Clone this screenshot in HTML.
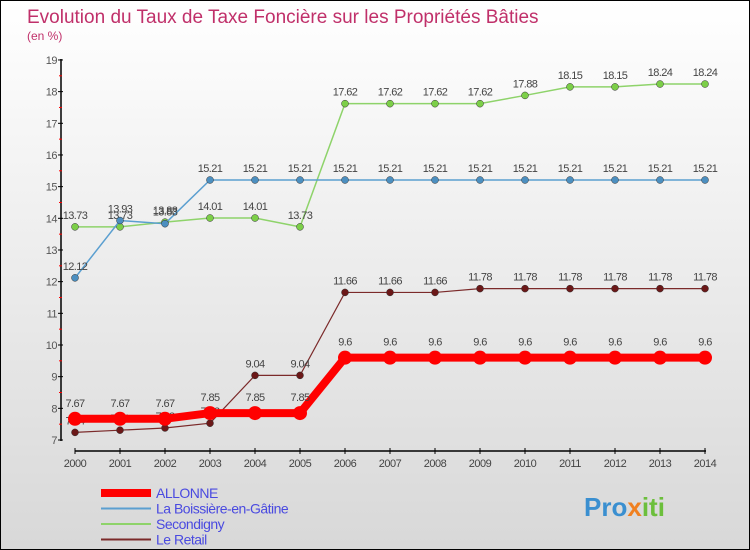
<!DOCTYPE html>
<html><head><meta charset="utf-8"><style>
body{margin:0;}
#c{position:relative;width:748px;height:548px;border:1px solid #000;background:linear-gradient(#fff,#d8d8d8);font-family:"Liberation Sans",sans-serif;overflow:hidden}
</style></head><body>
<div id="c">
<svg id="s" width="748" height="548" xmlns="http://www.w3.org/2000/svg"></svg>
</div>
<script>
const years=[2000,2001,2002,2003,2004,2005,2006,2007,2008,2009,2010,2011,2012,2013,2014];
const allonne=[7.67,7.67,7.67,7.85,7.85,7.85,9.6,9.6,9.6,9.6,9.6,9.6,9.6,9.6,9.6];
const boissiere=[12.12,13.93,13.83,15.21,15.21,15.21,15.21,15.21,15.21,15.21,15.21,15.21,15.21,15.21,15.21];
const secondigny=[13.73,13.73,13.88,14.01,14.01,13.73,17.62,17.62,17.62,17.62,17.88,18.15,18.15,18.24,18.24];
const retail=[7.24,7.31,7.38,7.53,9.04,9.04,11.66,11.66,11.66,11.78,11.78,11.78,11.78,11.78,11.78];
const yTicks=[7,8,9,10,11,12,13,14,15,16,17,18,19];
const ns="http://www.w3.org/2000/svg";const s=document.getElementById('s');
const X=i=>74+i*45, Y=v=>439-(v-7)*31.67;
function el(t,a,p){const e=document.createElementNS(ns,t);for(const k in a)e.setAttribute(k,a[k]);(p||s).appendChild(e);return e;}
let t=el('text',{x:26,y:22,fill:'#c0306a','font-size':19});t.textContent='Evolution du Taux de Taxe Foncière sur les Propriétés Bâties';


t=el('text',{x:26,y:39,fill:'#c0306a','font-size':12});t.textContent='(en %)';


let a=el('line',{x1:60,y1:58,x2:60,y2:440,stroke:'#000','stroke-width':1.5});


a=el('line',{x1:74,y1:450,x2:705,y2:450,stroke:'#000','stroke-width':1.5});


yTicks.forEach(v=>{el('line',{x1:57,x2:62,y1:Y(v),y2:Y(v),stroke:'#000'});
 if(v<19)el('line',{x1:58,x2:61,y1:Y(v+0.5),y2:Y(v+0.5),stroke:'#f00'});
 const l=el('text',{x:56,y:Y(v)+4,'text-anchor':'end','font-size':11,fill:'#555','letter-spacing':'-0.5'});l.textContent=v;
 
 });
years.forEach((y,i)=>{el('line',{x1:X(i),x2:X(i),y1:447,y2:453,stroke:'#000'});
 const l=el('text',{x:X(i),y:466,'text-anchor':'middle','font-size':11,fill:'#444','letter-spacing':'-0.5'});l.textContent=y;
 
 });
function series(d,col,dot,w,r,name,dy){
 const g=el('g',{});
 
 
 el('polyline',{points:d.map((v,i)=>X(i)+','+Y(v)).join(' '),fill:'none',stroke:col,'stroke-width':w},g);
 d.forEach((v,i)=>{const c=el('circle',{cx:X(i),cy:Y(v),r:r,fill:dot,stroke:'#333','stroke-width':r>5?0:0.5},g);
  
  
  const l=el('text',{x:X(i),y:Y(v)-dy,'text-anchor':'middle','font-size':11,fill:'#444','letter-spacing':'-0.6'},g);l.textContent=v;
  
  });
}
series(retail,'#7b2a2a','#6b1818',1.2,3.5,'le-retail',8);
series(secondigny,'#8ed36a','#7ccf48',1.5,3.5,'secondigny',8);
series(boissiere,'#5b9fd0','#4c8fc0',1.5,3.5,'boissiere',8);
series(allonne,'#f00','#f00',8,7,'allonne',12);
const leg=[['ALLONNE','#f00',8],['La Boissière-en-Gâtine','#5b9fd0',2],['Secondigny','#8ed36a',2],['Le Retail','#7b2a2a',2]];
leg.forEach((l,i)=>{const y=492+i*15.5;const g=el('g',{});
 
 
 el('line',{x1:100,x2:150,y1:y,y2:y,stroke:l[1],'stroke-width':l[2]},g);
 const tx=el('text',{x:155,y:y+5,'font-size':14,fill:'#4a4ae0','letter-spacing':'-0.5'},g);tx.textContent=l[0];});
const lg=el('text',{x:583,y:515,'font-size':26,'font-weight':'bold',fill:'#3a8fd0'});
lg.innerHTML='Pro<tspan fill="#f08020">x</tspan><tspan fill="#6cbf3c">iti</tspan>';


</script>
</body></html>
